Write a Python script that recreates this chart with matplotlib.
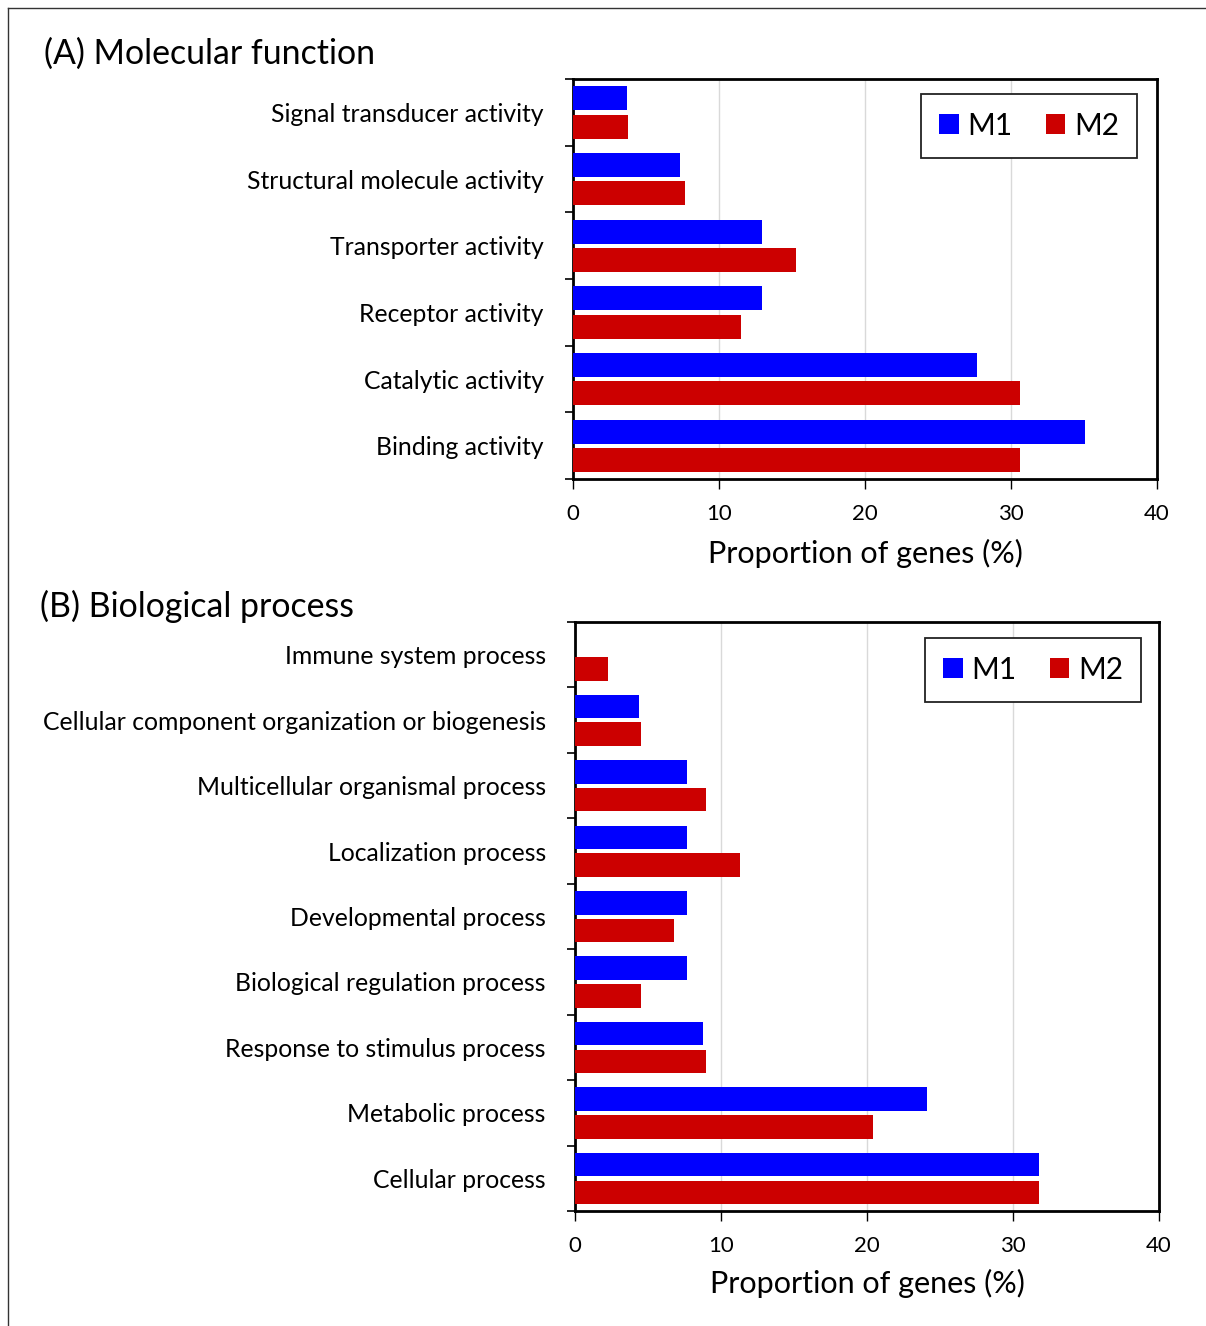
import numpy as np
import matplotlib
matplotlib.use("Agg")
import matplotlib.pyplot as plt
from matplotlib.patches import Patch
from matplotlib.lines import Line2D

plt.rcParams['font.family'] = ['Lato', 'DejaVu Sans']

# molecular function categories, top to bottom
mf_cats = ["Signal transducer activity", "Structural molecule activity",
           "Transporter activity", "Receptor activity",
           "Catalytic activity", "Binding activity"]
mf_m1 = [3.7, 7.35, 12.95, 12.95, 27.7, 35.1]
mf_m2 = [3.8, 7.7, 15.3, 11.5, 30.6, 30.6]

# biological process categories, top to bottom
bp_cats = ["Immune system process", "Cellular component organization or biogenesis",
           "Multicellular organismal process", "Localization process",
           "Developmental process", "Biological regulation process",
           "Response to stimulus process", "Metabolic process", "Cellular process"]
bp_m1 = [0.0, 4.35, 7.7, 7.7, 7.7, 7.7, 8.75, 24.1, 31.8]
bp_m2 = [2.25, 4.5, 9.0, 11.3, 6.8, 4.5, 9.0, 20.4, 31.8]

xticks = [0, 10, 20, 30, 40]
blue = "#0000FF"
red = "#CC0000"

W, H = 1206, 1326
fig = plt.figure(figsize=(W / 100, H / 100), dpi=100)


def px_axes(left, top, right, bottom):
    return fig.add_axes([left / W, 1 - bottom / H, (right - left) / W, (bottom - top) / H])


def draw_panel(ax, cats, m1, m2, leg_anchor, labelpad):
    n = len(cats)
    y = np.arange(n)
    h = 0.36
    ax.barh(y - 0.21, m1, height=h, color=blue, edgecolor="none", zorder=3)
    ax.barh(y + 0.215, m2, height=h, color=red, edgecolor="none", zorder=3)
    ax.set_xlim(0, 40)
    ax.set_ylim(n - 0.5, -0.5)
    ax.set_xticks(xticks)
    ax.set_xticklabels([str(t) for t in xticks], fontsize=16)
    ax.set_yticks(np.arange(n + 1) - 0.5)
    ax.set_yticklabels([])
    ax.set_yticks(y, minor=True)
    ax.set_yticklabels(cats, minor=True, fontsize=17.8)
    ax.tick_params(axis='y', which='minor', length=0, pad=21)
    ax.tick_params(axis='y', which='major', length=6, width=1.2, direction='out')
    ax.tick_params(axis='x', length=7, width=1, direction='out', pad=11)
    for t in ax.get_xticklines():
        t.set_color('#444444')
    ax.grid(axis='x', color='#d9d9d9', linewidth=1, zorder=0)
    ax.set_axisbelow(True)
    for s in ax.spines.values():
        s.set_linewidth(2)
        s.set_color('black')
    ax.set_xlabel("Proportion of genes (%)", fontsize=22, labelpad=labelpad)
    handles = [Patch(facecolor=blue, label="M1"), Patch(facecolor=red, label="M2")]
    leg = ax.legend(handles=handles, ncol=2, loc='upper right', bbox_to_anchor=leg_anchor,
                    borderaxespad=0, fontsize=21.5, frameon=True, fancybox=False,
                    edgecolor='#222222', handlelength=0.65, handleheight=0.65,
                    handletextpad=0.3, columnspacing=1.1, borderpad=0.6)
    leg.get_frame().set_linewidth(1.3)
    leg.get_frame().set_alpha(1)


ax_a = px_axes(573, 79, 1157, 479)
draw_panel(ax_a, mf_cats, mf_m1, mf_m2, (1 - 20 / 584, 1 - 15 / 400), 11)

ax_b = px_axes(575, 622, 1159, 1211)
draw_panel(ax_b, bp_cats, bp_m1, bp_m2, (1 - 18 / 584, 1 - 16 / 589), 9)

fig.text(44 / W, 1 - 54 / H, "(A) Molecular function", fontsize=24.4, ha='left', va='center')
fig.text(40 / W, 1 - 606 / H, "(B) Biological process", fontsize=24.4, ha='left', va='center')

# thin frame along the top and left edge
fig.add_artist(Line2D([8 / W, 1], [1 - 8 / H, 1 - 8 / H], transform=fig.transFigure,
                      color='#333333', linewidth=1))
fig.add_artist(Line2D([8 / W, 8 / W], [0, 1 - 8 / H], transform=fig.transFigure,
                      color='#333333', linewidth=1))

fig.savefig("out.png", dpi=100)
